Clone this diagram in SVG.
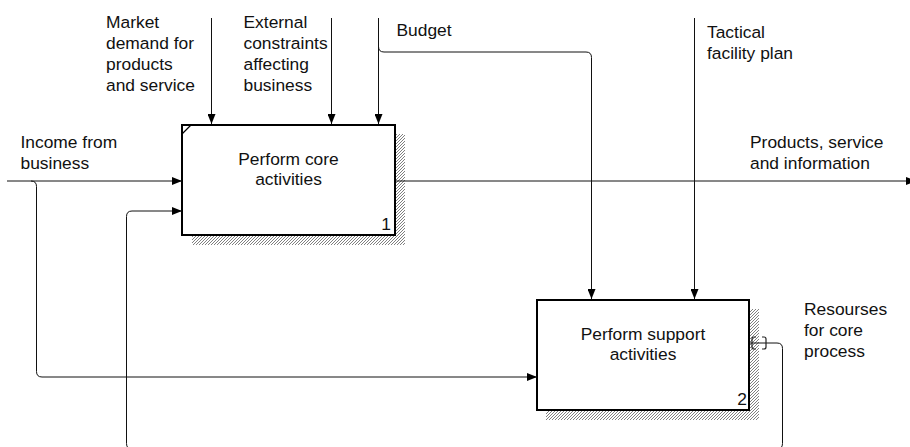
<svg xmlns="http://www.w3.org/2000/svg" width="910" height="447" viewBox="0 0 910 447">
  <style>
    text { font-family: "Liberation Sans", Arial, sans-serif; font-size: 17.4px; fill: #111; }
    .box { fill: #fff; stroke: #000; stroke-width: 2; }
    .shadow { fill: url(#hatch); }
    .arrow { fill: none; stroke: #111; stroke-width: 1; }
    .arrow.in { marker-end: url(#head); }
    .tunnel { fill: none; stroke: #222; stroke-width: 1.2; }
    .mid { text-anchor: middle; }
    .end { text-anchor: end; }
  </style>
  <defs>
    <pattern id="hatch" width="3" height="3" patternUnits="userSpaceOnUse">
      <rect width="3" height="3" fill="#fff"/>
      <path d="M-1,1 L1,-1 M0,3 L3,0 M2,4 L4,2" stroke="#808080" stroke-width="1"/>
    </pattern>
    <marker id="head" viewBox="0 0 10 8" refX="10" refY="4" markerWidth="10" markerHeight="8" markerUnits="userSpaceOnUse" orient="auto">
      <path d="M0,0 L10,4 L0,8 z" fill="#000"/>
    </marker>
  </defs>

  <!-- activity A1 -->
  <g id="node-perform-core">
    <rect class="shadow" x="192" y="134" width="213" height="111"/>
    <rect class="box" x="182" y="125" width="213" height="110"/>
    <path d="M182,134 L191,125" stroke="#000" stroke-width="1.2"/>
    <text class="mid" x="288.5" y="165">Perform core</text>
    <text class="mid" x="288.5" y="185">activities</text>
    <text class="end" x="391" y="229.5">1</text>
  </g>

  <!-- activity A2 -->
  <g id="node-perform-support">
    <rect class="shadow" x="546" y="309" width="213" height="111"/>
    <rect class="box" x="537" y="300" width="212" height="110"/>
    <text class="mid" x="643" y="340">Perform support</text>
    <text class="mid" x="643" y="360">activities</text>
    <text class="end" x="747" y="405">2</text>
  </g>

  <!-- arrows -->
  <g id="connectors">
    <!-- inputs -->
    <path class="arrow in" d="M7,181 H182"/>
    <path class="arrow in" d="M31,181 Q36.5,181 36.5,186.5 V371.5 Q36.5,377 42,377 H537"/>
    <!-- resources loop back from A2 to A1 -->
    <path class="arrow in" d="M750,343 H777 Q782.5,343 782.5,348.5 V443.5 Q782.5,449 777,449 H132 Q126.5,449 126.5,443.5 V216.5 Q126.5,211 132,211 H182"/>
    <path class="tunnel" d="M756,337 H754 Q752,337 752,339 V347 Q752,349 754,349 H756 M762,337 H764 Q766,337 766,339 V347 Q766,349 764,349 H762"/>
    <!-- output -->
    <path class="arrow in" d="M396,181 H916"/>
    <!-- controls -->
    <path class="arrow in" d="M211.5,18 V124"/>
    <path class="arrow in" d="M331.5,18 V124"/>
    <path class="arrow in" d="M378.5,18 V124"/>
    <path class="arrow in" d="M378.5,46.5 Q378.5,52 384,52 H586 Q591.5,52 591.5,57.5 V299"/>
    <path class="arrow in" d="M694.5,18 V299"/>
  </g>

  <!-- arrow labels -->
  <g id="labels">
    <text x="106" y="27.5">Market</text>
    <text x="106" y="48.8">demand for</text>
    <text x="106" y="70">products</text>
    <text x="106" y="91">and service</text>
    <text x="243.5" y="27.5">External</text>
    <text x="243.5" y="48.8">constraints</text>
    <text x="243.5" y="70">affecting</text>
    <text x="243.5" y="91">business</text>
    <text x="396.5" y="35.7">Budget</text>
    <text x="707" y="37.5">Tactical</text>
    <text x="707" y="59">facility plan</text>
    <text x="750" y="147.5">Products, service</text>
    <text x="750" y="168.5">and information</text>
    <text x="20.5" y="148.3">Income from</text>
    <text x="20.5" y="169.3">business</text>
    <text x="804" y="315">Resourses</text>
    <text x="804" y="335.7">for core</text>
    <text x="804" y="356.5">process</text>
  </g>
</svg>
